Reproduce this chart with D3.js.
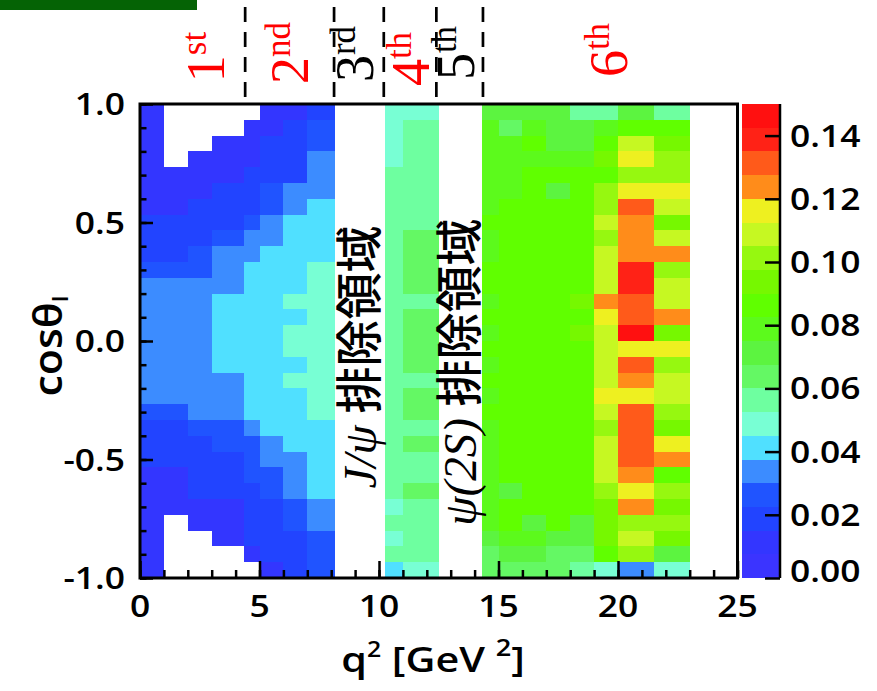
<!DOCTYPE html>
<html><head><meta charset="utf-8">
<script src="https://cdn.jsdelivr.net/npm/d3@7/dist/d3.min.js"></script>
<style>body{margin:0;background:#fff}svg{display:block}</style>
</head><body>
<svg id="chart" width="877" height="691"></svg>
<script>
// ---------------- DATA ----------------
// q² bins [low, high] in GeV² (J/ψ and ψ(2S) veto gaps are empty)
const q2Bins = [[0,1],[1,2],[2,3],[3,4.35],[4.35,5],[5,6],[6,7],[7,8.15],
                [10.24,11],[11,12.5],
                [14.33,15],[15,16],[16,17],[17,18],[18,19],[19,20],[20,21.5],[21.5,23]];
// cosθl bin edges (30 bins)
const cosEdges = [-1.000,-0.933,-0.867,-0.800,-0.733,-0.667,-0.600,-0.533,-0.467,-0.400,-0.333,-0.267,-0.200,-0.133,-0.067,
                  0.000,0.067,0.133,0.200,0.267,0.333,0.400,0.467,0.533,0.600,0.667,0.733,0.800,0.867,0.933,1.000];
const _ = null;
// one array per q² bin, 30 values listed from cosθl = +1 (top) down to -1 (bottom); null = empty bin
const cellValues = [
 [.011,.011,.011,.011,.011,.011,.011,.019,.019,.019,.026,.034,.034,.034,.034,.034,.034,.034,.034,.026,.019,.019,.019,.011,.011,.011,.011,.011,.011,.011],
 [_,_,_,_,.011,.011,.011,.019,.019,.019,.026,.034,.034,.034,.034,.034,.034,.034,.034,.026,.019,.019,.019,.011,.011,.011,_,_,_,_],
 [_,_,_,.011,.011,.011,.019,.019,.019,.026,.026,.034,.034,.034,.034,.034,.034,.034,.034,.034,.026,.019,.019,.019,.019,.011,.011,_,_,_],
 [_,_,.011,.011,.011,.019,.019,.019,.026,.034,.034,.034,.041,.041,.041,.041,.041,.034,.034,.034,.026,.026,.019,.019,.019,.011,.011,.011,_,_],
 [_,.011,.011,.011,.019,.019,.019,.026,.034,.034,.041,.041,.041,.041,.041,.041,.041,.041,.041,.041,.034,.026,.026,.026,.019,.019,.019,.019,.011,_],
 [.011,.011,.019,.019,.019,.026,.026,.034,.034,.041,.041,.041,.041,.041,.041,.041,.041,.041,.041,.041,.041,.034,.034,.026,.026,.019,.019,.019,.019,.011],
 [.011,.019,.019,.019,.019,.034,.034,.041,.041,.041,.041,.041,.049,.041,.049,.049,.041,.049,.041,.041,.041,.041,.034,.034,.034,.026,.026,.019,.019,.019],
 [.019,.026,.026,.034,.034,.034,.041,.041,.041,.041,.049,.049,.049,.049,.049,.049,.049,.049,.049,.049,.041,.041,.041,.041,.041,.034,.034,.026,.026,.026],
 [.049,.049,.049,.049,.056,.056,.056,.056,.056,.056,.056,.056,.056,.056,.056,.056,.056,.056,.056,.056,.056,.056,.056,.056,.056,.049,.056,.049,.056,.041],
 [.049,.056,.056,.056,.056,.056,.056,.056,.064,.064,.064,.064,.056,.064,.064,.064,.064,.056,.064,.064,.056,.064,.056,.056,.064,.056,.056,.056,.056,.049],
 [.071,.079,.079,.079,.079,.079,.079,.086,.079,.079,.086,.086,.079,.086,.079,.086,.079,.086,.079,.086,.079,.079,.079,.079,.079,.079,.079,.071,.064,.064],
 [.071,.064,.079,.079,.079,.079,.086,.086,.086,.086,.086,.086,.086,.086,.086,.086,.086,.086,.086,.086,.086,.086,.086,.086,.071,.086,.086,.079,.071,.064],
 [.071,.079,.086,.079,.086,.086,.086,.086,.086,.086,.086,.086,.086,.086,.086,.086,.086,.086,.086,.086,.086,.086,.086,.086,.086,.086,.071,.079,.071,.064],
 [.071,.071,.071,.079,.086,.071,.086,.086,.086,.086,.086,.086,.086,.086,.086,.086,.086,.086,.086,.086,.086,.086,.086,.086,.086,.086,.086,.071,.064,.064],
 [.056,.071,.071,.079,.086,.086,.086,.086,.086,.086,.086,.086,.094,.086,.094,.086,.086,.086,.086,.086,.086,.086,.086,.086,.086,.086,.071,.071,.064,.056],
 [.056,.079,.086,.094,.086,.101,.101,.109,.101,.109,.109,.109,.124,.116,.109,.109,.109,.109,.116,.109,.101,.109,.109,.109,.101,.094,.094,.094,.086,.049],
 [.071,.086,.109,.116,.101,.116,.131,.124,.124,.124,.139,.139,.131,.131,.146,.116,.131,.124,.116,.131,.131,.131,.131,.124,.116,.124,.101,.109,.101,.034],
 [.056,.086,.094,.101,.101,.116,.109,.094,.109,.124,.101,.109,.109,.124,.094,.116,.101,.109,.109,.101,.094,.116,.124,.086,.101,.094,.101,.094,.071,.049]
];
// region boundaries (dashed lines) in GeV²
const regionEdges = [4.4, 8.12, 10.2, 12.4, 14.35];
const ordinalNums = ["1","2","3","4","5","6"];
const ordinalSufs = ["st","nd","rd","th","th","th"];
const ordinalIsVeto = [false,false,true,false,true,false];
const vetoNames = ["J/ψ", "ψ(2S)"];
const vetoText = "排除領域";
const xTicks = [0,5,10,15,20,25];
const yTicks = [-1.0,-0.5,0.0,0.5,1.0];
const zTicks = [0.00,0.02,0.04,0.06,0.08,0.10,0.12,0.14];
const zMax = 0.15;
// 20-level colour palette
const palette = ["#3b34ff","#3336ff","#2244ff","#2054ff","#3c8cff","#50e0ff","#78ffd4","#6effa0",
                 "#64f864","#5cf440","#5cfa1c","#60ff00","#76f800","#96f810","#c6f822","#eef020",
                 "#ff8c1a","#ff5a1a","#ff2216","#ff1010"];

// ---------------- LAYOUT ----------------
const SANS = "'Open Sans','Noto Sans',sans-serif";
const SERIF = "'Liberation Serif','DejaVu Serif',serif";
const CJK = "'Noto Sans CJK JP','Noto Sans CJK SC',sans-serif";
const svg = d3.select("#chart");
const L = 140, R = 737.5, T = 104, B = 578;
const x = d3.scaleLinear().domain([0,25]).range([L,R]);
const y = d3.scaleLinear().domain([-1,1]).range([B,T]);
const zy = d3.scaleLinear().domain([0,zMax]).range([B,T]);
const color = d3.scaleQuantize().domain([0,zMax]).range(palette);
const SX = 1.18;

function sText(g, px, py, str, size, anchor, rot) {
  return g.append("text")
    .attr("transform", `translate(${px},${py})` + (rot ? ` rotate(${rot})` : "") + ` scale(${SX},1)`)
    .attr("text-anchor", anchor).attr("font-family", SANS).attr("font-weight", 600)
    .attr("font-size", size).attr("fill", "#000").text(str);
}

// green bar top-left
svg.append("rect").attr("x",0).attr("y",0).attr("width",197).attr("height",10).attr("fill","#056305");

// heatmap cells
const cells = [];
q2Bins.forEach((b,i) => cellValues[i].forEach((v,r) => {
  if (v != null) cells.push({lo:b[0], hi:b[1], c0:cosEdges[29-r], c1:cosEdges[30-r], v});
}));
svg.append("g").selectAll("rect").data(cells).join("rect")
  .attr("x", d => x(d.lo)).attr("width", d => x(d.hi) - x(d.lo))
  .attr("y", d => y(d.c1)).attr("height", d => y(d.c0) - y(d.c1))
  .attr("fill", d => color(d.v)).attr("shape-rendering","crispEdges");

// axes ticks
function tickGroup(axis, tx, ty) {
  const g = svg.append("g").attr("transform", `translate(${tx},${ty})`).call(axis);
  g.select(".domain").remove();
  g.selectAll("line").attr("stroke","#000").attr("stroke-width",2.5);
  g.selectAll("text").remove();
  return g;
}
tickGroup(d3.axisBottom(x).tickValues(d3.range(0,26,1)).tickSize(-8), 0, B);
tickGroup(d3.axisBottom(x).tickValues(xTicks).tickSize(-17), 0, B);
tickGroup(d3.axisLeft(y).tickValues(d3.range(-10,11).map(k=>k/10)).tickSize(-6.5), L, 0);
tickGroup(d3.axisLeft(y).tickValues(yTicks).tickSize(-13), L, 0);

// frame
svg.append("rect").attr("x",L).attr("y",T).attr("width",R-L).attr("height",B-T)
  .attr("fill","none").attr("stroke","#000").attr("stroke-width",3);

// tick labels
const gl = svg.append("g");
xTicks.forEach(v => sText(gl, x(v), 617, String(v), 30, "middle"));
yTicks.forEach(v => sText(gl, 125, y(v) + 11, v.toFixed(1), 30, "end"));

// axis titles
const xt = svg.append("text")
  .attr("transform", `translate(433,672) scale(${SX},1)`)
  .attr("text-anchor","middle").attr("font-family",SANS).attr("font-weight",600).attr("font-size",35);
xt.append("tspan").text("q");
xt.append("tspan").attr("font-size",21).attr("dy",-15).text("2");
xt.append("tspan").attr("dy",15).text(" [GeV ");
xt.append("tspan").attr("font-size",23).attr("dy",-16).text("2");
xt.append("tspan").attr("dy",16).text("]");

const yt = svg.append("text")
  .attr("transform", `translate(62,346) rotate(-90) scale(1.1,1)`)
  .attr("text-anchor","middle").attr("font-family",SANS).attr("font-weight",600).attr("font-size",39);
yt.append("tspan").text("cosθ");
yt.append("tspan").attr("font-size",22).attr("dy",6).text("l");

// colour bar
const levels = d3.range(palette.length + 1).map(i => i * zMax / palette.length);
svg.append("g").selectAll("rect").data(palette).join("rect")
  .attr("x",742).attr("width",38)
  .attr("y",(d,i) => zy(levels[i+1])).attr("height",(d,i) => zy(levels[i]) - zy(levels[i+1]))
  .attr("fill", d => d).attr("shape-rendering","crispEdges");
const gz = svg.append("g").attr("transform","translate(780,0)")
  .call(d3.axisRight(zy).tickValues(zTicks).tickSize(-15));
gz.select(".domain").attr("stroke","#000").attr("stroke-width",2.5).attr("d",`M0,${T}V${B}`);
gz.selectAll("line").attr("stroke","#000").attr("stroke-width",2.5);
gz.selectAll("text").remove();
zTicks.forEach(v => sText(gl, 790, zy(v) + (v === 0 ? 4 : 11), v.toFixed(2), 30, "start"));

// dashed region boundaries above the plot
svg.append("g").selectAll("line").data(regionEdges).join("line")
  .attr("x1", d => x(d)).attr("x2", d => x(d)).attr("y1", 7).attr("y2", T)
  .attr("stroke","#000").attr("stroke-width",2.7).attr("stroke-dasharray","15 10");

// ordinal labels (rotated, serif)
const ordPos = [[3.5,57],[7.05,53],[9.73,54],[12.1,59],[13.96,53],[20.36,50]];
ordinalNums.forEach((n,i) => {
  const t = svg.append("text")
    .attr("transform", `translate(${x(ordPos[i][0])},${ordPos[i][1]}) rotate(-90)`)
    .attr("text-anchor","middle").attr("font-family",SERIF).attr("font-size",54)
    .attr("fill", ordinalIsVeto[i] ? "#000" : "#ff0000");
  t.append("tspan").text(n);
  t.append("tspan").attr("font-size",35).attr("dy",-18).text(ordinalSufs[i]);
});

// veto region labels
const vetoPos = [[9.87,357],[14.05,372]];
vetoNames.forEach((nm,i) => {
  const t = svg.append("text")
    .attr("transform", `translate(${x(vetoPos[i][0])},${vetoPos[i][1]}) rotate(-90)`)
    .attr("text-anchor","middle").attr("font-size",47).attr("fill","#000");
  t.append("tspan").attr("font-family",SERIF).attr("font-style","italic").text(nm);
  t.append("tspan").attr("font-family",SERIF).text(" ");
  t.append("tspan").attr("font-family",CJK).attr("font-weight",500).text(vetoText);
});
</script>
</body></html>
